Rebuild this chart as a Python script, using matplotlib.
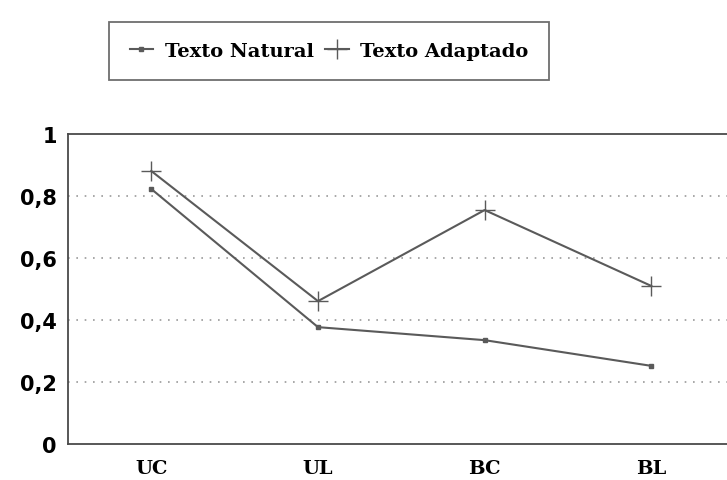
import matplotlib.pyplot as plt

# data
categories = ['UC', 'UL', 'BC', 'BL']
natural = [0.823, 0.377, 0.335, 0.252]
adaptado = [0.881, 0.461, 0.755, 0.510]
yticks = [0, 0.2, 0.4, 0.6, 0.8, 1]
ytick_labels = ['0', '0,2', '0,4', '0,6', '0,8', '1']

line_col = '#5a5a5a'
serif = ['DejaVu Serif']

fig = plt.figure(figsize=(7.27, 4.81), dpi=100)
ax = fig.add_axes([0.0935, 0.075, 0.917, 0.644])

x = range(len(categories))
ax.plot(x, natural, color=line_col, lw=1.5, marker='s', ms=3.5,
        label='Texto Natural')
ax.plot(x, adaptado, color=line_col, lw=1.5, marker='+', ms=14, mew=1.0,
        label='Texto Adaptado')

ax.set_xlim(-0.5, 3.5)
ax.set_ylim(0, 1)
ax.set_xticks(list(x))
ax.set_xticklabels(categories, family=serif, fontweight='bold', fontsize=14)
ax.tick_params(length=0)
ax.set_yticks(yticks)
ax.set_yticklabels(ytick_labels, fontweight='bold', fontsize=15)
ax.tick_params(axis='x', pad=11)
ax.tick_params(axis='y', pad=8)

for v in yticks[1:-1]:
    ax.axhline(v, color='#9a9a9a', lw=1.2, ls=(0, (1, 4)), zorder=0)

for side in ['left', 'top', 'bottom']:
    ax.spines[side].set_color('#4a4a4a')
    ax.spines[side].set_linewidth(1.3)
ax.spines['right'].set_visible(False)

leg = fig.legend(loc='center', bbox_to_anchor=(0.4525, 0.892), ncol=2,
                 frameon=True, fancybox=False, edgecolor='#4a4a4a',
                 prop={'family': serif, 'weight': 'bold', 'size': 14},
                 handlelength=1.2, handletextpad=0.6, columnspacing=0.6,
                 borderpad=1.05, borderaxespad=0)
leg.get_frame().set_linewidth(1.3)

fig.savefig('out.png', dpi=100)
